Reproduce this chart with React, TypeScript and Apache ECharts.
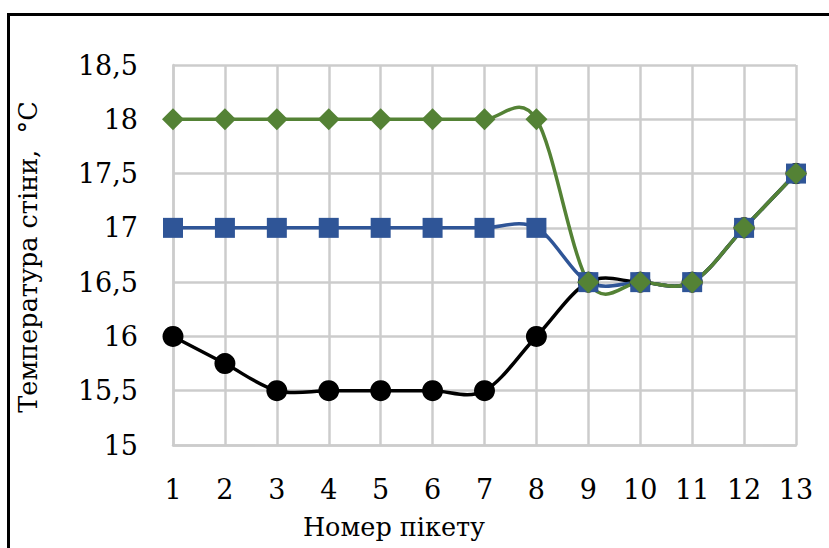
import React, { useEffect, useRef } from "react";
import * as echarts from "echarts";

const pickets = ["1", "2", "3", "4", "5", "6", "7", "8", "9", "10", "11", "12", "13"];
const seriesBlack = [16, 15.75, 15.5, 15.5, 15.5, 15.5, 15.5, 16, 16.5, 16.5, 16.5, 17, 17.5];
const seriesBlue = [17, 17, 17, 17, 17, 17, 17, 17, 16.5, 16.5, 16.5, 17, 17.5];
const seriesGreen = [18, 18, 18, 18, 18, 18, 18, 18, 16.5, 16.5, 16.5, 17, 17.5];
const yTitle = "Температура стіни,  °С";
const xTitle = "Номер пікету";

const FONT = "DejaVu Serif";
const FS = 27;
const TITLE_FS = 25.5;

function smoothLine(values: number[], color: string) {
  return {
    type: "custom",
    data: values.map((v, i) => [i, v]),
    encode: { x: 0, y: 1 },
    silent: true,
    renderItem: (params: any, api: any) => {
      const i = params.dataIndex;
      const n = values.length;
      if (i >= n - 1) return null;
      const pt = (k: number) => {
        const kk = Math.max(0, Math.min(n - 1, k));
        return api.coord([kk, values[kk]]);
      };
      const p0 = pt(i - 1);
      const p1 = pt(i);
      const p2 = pt(i + 1);
      const p3 = pt(i + 2);
      const t = 1 / 6;
      return {
        type: "bezierCurve",
        shape: {
          x1: p1[0],
          y1: p1[1],
          x2: p2[0],
          y2: p2[1],
          cpx1: p1[0] + (p2[0] - p0[0]) * t,
          cpy1: p1[1] + (p2[1] - p0[1]) * t,
          cpx2: p2[0] - (p3[0] - p1[0]) * t,
          cpy2: p2[1] - (p3[1] - p1[1]) * t,
        },
        style: { stroke: color, lineWidth: 3.5, fill: "none" },
      };
    },
  };
}

function markers(values: number[], color: string, symbol: string, size: number) {
  return {
    type: "scatter",
    data: values,
    symbol,
    symbolSize: size,
    itemStyle: { color, opacity: 1 },
    silent: true,
  };
}

export default function App() {
  const ref = useRef<HTMLDivElement>(null);
  useEffect(() => {
    if (!ref.current) return;
    const chart = echarts.init(ref.current, null, { renderer: "svg" });
    const grey = "#cccccc";
    chart.setOption({
      animation: false,
      backgroundColor: "#ffffff",
      textStyle: { fontFamily: FONT },
      grid: { left: 173, right: 33, top: 65, bottom: 103, containLabel: false },
      xAxis: {
        type: "category",
        data: pickets,
        boundaryGap: false,
        axisLine: { show: true, lineStyle: { color: grey, width: 2.5 } },
        axisTick: { show: false },
        axisLabel: { color: "#000", fontFamily: FONT, fontSize: FS, margin: 31 },
        splitLine: { show: true, lineStyle: { color: grey, width: 2.5 } },
      },
      yAxis: {
        type: "value",
        min: 15,
        max: 18.5,
        interval: 0.5,
        axisLine: { show: true, lineStyle: { color: grey, width: 2.5 } },
        axisTick: { show: false },
        axisLabel: {
          color: "#000",
          fontFamily: FONT,
          fontSize: FS,
          margin: 35,
          formatter: (v: number) => String(v).replace(".", ","),
        },
        splitLine: { show: true, lineStyle: { color: grey, width: 2.5 } },
      },
      graphic: [
        {
          type: "rect",
          shape: { x: 8.5, y: 14.5, width: 900, height: 700 },
          style: { fill: "none", stroke: "#000", lineWidth: 3 },
          silent: true,
        },
        {
          type: "text",
          x: 28,
          y: 257,
          rotation: Math.PI / 2,
          style: {
            text: yTitle,
            fontFamily: FONT,
            fontSize: TITLE_FS,
            fill: "#000",
            align: "center",
            verticalAlign: "middle",
          },
        },
        {
          type: "text",
          x: 394,
          y: 527,
          style: {
            text: xTitle,
            fontFamily: FONT,
            fontSize: TITLE_FS,
            fill: "#000",
            align: "center",
            verticalAlign: "middle",
          },
        },
      ],
      series: [
        smoothLine(seriesBlack, "#000000"),
        markers(seriesBlack, "#000000", "circle", 21),
        smoothLine(seriesBlue, "#2F5597"),
        markers(seriesBlue, "#2F5597", "rect", 20),
        smoothLine(seriesGreen, "#548235"),
        markers(seriesGreen, "#548235", "diamond", 22),
      ],
    });
    return () => chart.dispose();
  }, []);
  return (
    <div
      ref={ref}
      style={{ position: "absolute", left: 0, top: 0, width: 829, height: 548 }}
    />
  );
}
